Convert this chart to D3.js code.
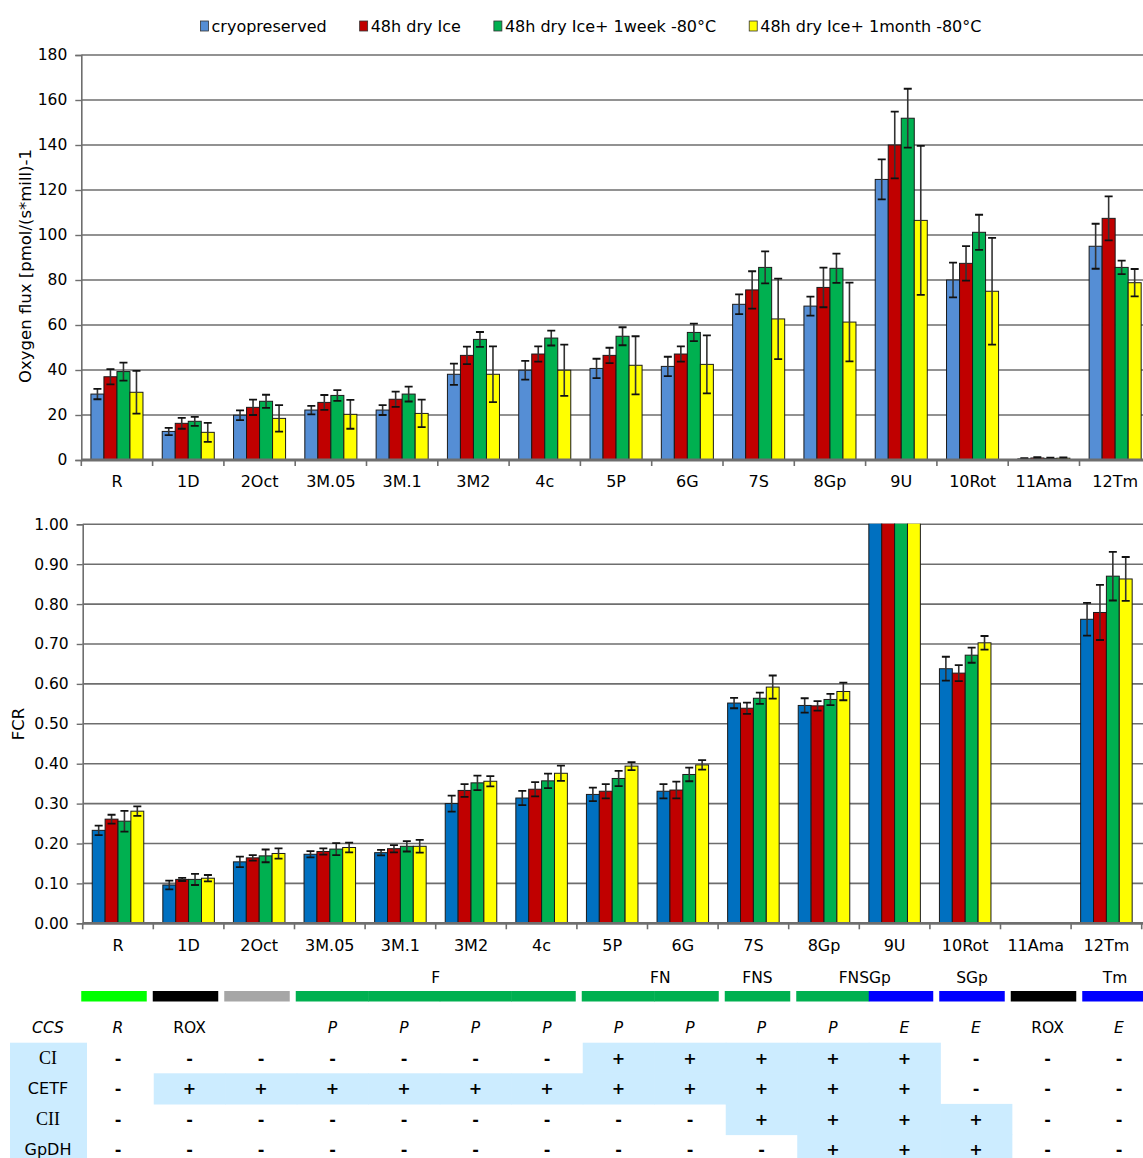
<!DOCTYPE html>
<html><head><meta charset="utf-8">
<script src="https://cdn.jsdelivr.net/npm/d3@7"></script>
<style>body{margin:0;background:#fff}svg{display:block;font-family:"DejaVu Sans",Verdana,sans-serif}</style>
</head><body><svg id="c" width="1143" height="1158"></svg>
<script>
const categories = ["R","1D","2Oct","3M.05","3M.1","3M2","4c","5P","6G","7S","8Gp","9U","10Rot","11Ama","12Tm"];
const seriesNames = ["cryopreserved","48h dry Ice","48h dry Ice+ 1week -80°C","48h dry Ice+ 1month -80°C"];
const fluxTicks = [0,20,40,60,80,100,120,140,160,180];
const fcrTicks = [0,0.1,0.2,0.3,0.4,0.5,0.6,0.7,0.8,0.9,1.0];

// Oxygen flux
const fluxCryo     = [29.3,12.7,19.9,22.2,22.2,38.1,39.9,40.7,41.6,69.2,68.4,124.7,80.0,0.5,95.0];
const fluxCryoErr  = [2.3,1.6,2.2,1.9,2.2,4.7,4.2,4.3,4.3,4.4,4.2,8.9,7.7,0.3,10.0];
const fluxDry      = [37.0,16.3,23.4,25.6,27.0,46.5,47.1,46.5,47.1,75.6,76.7,140.0,87.4,0.9,107.4];
const fluxDryErr   = [3.4,2.4,3.4,3.3,3.4,3.9,3.4,3.4,3.4,8.3,8.8,14.8,7.7,0.4,9.8];
const fluxWeek     = [39.3,17.2,26.1,28.7,29.3,53.6,54.2,55.0,56.7,85.6,85.2,151.9,101.2,0.7,85.6];
const fluxWeekErr  = [4.0,2.0,2.9,2.4,3.3,3.3,3.3,4.0,3.9,7.1,6.5,13.1,7.8,0.3,3.0];
const fluxMonth    = [30.1,12.3,18.5,20.3,20.7,38.1,39.9,42.1,42.5,62.7,61.3,106.5,75.0,0.8,78.8];
const fluxMonthErr = [9.5,4.2,5.9,6.4,6.1,12.4,11.4,12.9,12.9,17.9,17.5,33.1,23.7,0.4,6.1];

// FCR
const fcrCryo     = [0.233,0.096,0.154,0.173,0.177,0.300,0.314,0.323,0.331,0.552,0.546,1.30,0.638,null,0.762];
const fcrCryoErr  = [0.012,0.011,0.013,0.008,0.007,0.020,0.018,0.017,0.018,0.013,0.018,null,0.030,null,0.041];
const fcrDry      = [0.261,0.110,0.164,0.180,0.187,0.333,0.336,0.331,0.334,0.539,0.545,1.30,0.627,null,0.779];
const fcrDryErr   = [0.011,0.004,0.007,0.008,0.009,0.016,0.018,0.018,0.021,0.014,0.012,null,0.020,null,0.069];
const fcrWeek     = [0.256,0.110,0.169,0.186,0.193,0.352,0.357,0.363,0.373,0.564,0.561,1.30,0.672,null,0.870];
const fcrWeekErr  = [0.026,0.014,0.016,0.015,0.013,0.018,0.018,0.019,0.017,0.014,0.014,null,0.019,null,0.061];
const fcrMonth    = [0.281,0.113,0.175,0.190,0.193,0.356,0.376,0.394,0.397,0.592,0.581,1.30,0.703,null,0.863];
const fcrMonthErr = [0.012,0.008,0.013,0.012,0.016,0.013,0.019,0.010,0.012,0.029,0.022,null,0.017,null,0.055];

// Table
const ccsRow  = ["R","ROX","","P","P","P","P","P","P","P","P","E","E","ROX","E"];
const rowNames = ["CI","CETF","CII","GpDH"];
const rowCI   = ["-","-","-","-","-","-","-","+","+","+","+","+","-","-","-"];
const rowCETF = ["-","+","+","+","+","+","+","+","+","+","+","+","-","-","-"];
const rowCII  = ["-","-","-","-","-","-","-","-","-","+","+","+","+","-","-"];
const rowGpDH = ["-","-","-","-","-","-","-","-","-","-","+","+","+","-","-"];
const pathwayLabels = ["","","","F","FN","FNS","FNSGp","SGp","","Tm"];
const pathwayStart  = [0,1,2,3,7,9,10,12,13,14];
const pathwayEnd    = [0,1,2,6,8,9,11,12,13,14];
const pathwayColors = ["#00FF00","#000000","#A6A6A6","#00B050","#00B050","#00B050","#00B050","#00B050","#00B050","#00B050","#00B050","#0000FF","#0000FF","#000000","#0000FF"];

const topColors = ["#558ED5","#C00000","#00B050","#FFFF00"];
const botColors = ["#0070C0","#C00000","#00B050","#FFFF00"];

const svg = d3.select("#c");
svg.append("rect").attr("width",1143).attr("height",1158).attr("fill","#fff");

function drawChart(o){
  const g = svg.append("g");
  const x0 = d3.scaleBand().domain(categories).range([o.left, o.right]).paddingInner(0).paddingOuter(0);
  const x1 = d3.scaleBand().domain([0,1,2,3]).range([0, x0.bandwidth()]).paddingInner(0).paddingOuter(0.74);
  const y = d3.scaleLinear().domain(o.domain).range([o.bottom, o.top]);
  const clipId = "clip"+o.id;
  svg.append("clipPath").attr("id",clipId).append("rect")
    .attr("x",o.left).attr("y",o.top-0.5).attr("width",o.right-o.left).attr("height",o.bottom-o.top+1);
  g.append("g").selectAll("line").data(o.ticks.slice(1)).join("line")
    .attr("x1",o.left).attr("x2",1143).attr("y1",d=>y(d)).attr("y2",d=>y(d))
    .attr("stroke","#6e6e6e").attr("stroke-width",1.6);
  const ya = g.append("g").attr("transform",`translate(${o.left},0)`)
    .call(d3.axisLeft(y).tickValues(o.ticks).tickSize(6).tickPadding(8).tickFormat(o.fmt));
  ya.select(".domain").attr("stroke","#6e6e6e").attr("stroke-width",1.6);
  ya.selectAll(".tick line").attr("stroke","#6e6e6e").attr("stroke-width",1.4);
  ya.selectAll("text").attr("font-size",15.5).attr("fill","#000").attr("font-family","'DejaVu Sans',Verdana,sans-serif");
  const bars = g.append("g").attr("clip-path",`url(#${clipId})`);
  const data = [];
  categories.forEach((c,i)=>{
    o.series.forEach((s,k)=>{
      if(s.v[i]!=null) data.push({c, k, v:s.v[i], e:s.e[i]});
    });
  });
  bars.selectAll("rect").data(data).join("rect")
    .attr("x",d=>x0(d.c)+x1(d.k)).attr("width",x1.bandwidth())
    .attr("y",d=>y(d.v)).attr("height",d=>y(0)-y(d.v))
    .attr("fill",d=>o.colors[d.k]).attr("stroke","#1a1a1a").attr("stroke-width",1);
  const eb = bars.append("g").selectAll("g").data(data.filter(d=>d.e!=null)).join("g")
    .attr("stroke","#111").attr("stroke-width",1.8);
  const cx = d=>x0(d.c)+x1(d.k)+x1.bandwidth()/2;
  eb.append("line").attr("x1",cx).attr("x2",cx).attr("y1",d=>y(d.v+d.e)).attr("y2",d=>y(d.v-d.e)).attr("stroke","#333").attr("stroke-width",1.6);
  eb.append("line").attr("x1",d=>cx(d)-4).attr("x2",d=>cx(d)+4).attr("y1",d=>y(d.v+d.e)).attr("y2",d=>y(d.v+d.e));
  eb.append("line").attr("x1",d=>cx(d)-4).attr("x2",d=>cx(d)+4).attr("y1",d=>y(d.v-d.e)).attr("y2",d=>y(d.v-d.e));
  g.append("line").attr("x1",o.left).attr("x2",1143).attr("y1",y(0)).attr("y2",y(0))
    .attr("stroke","#6e6e6e").attr("stroke-width",2.8);
  const bounds = categories.map(c=>x0(c)).concat([o.right]);
  g.append("g").selectAll("line").data(bounds).join("line")
    .attr("x1",d=>d).attr("x2",d=>d).attr("y1",y(0)).attr("y2",y(0)+6)
    .attr("stroke","#6e6e6e").attr("stroke-width",1.6);
  g.append("g").selectAll("text").data(categories).join("text")
    .attr("x",d=>x0(d)+x0.bandwidth()/2).attr("y",o.labelY)
    .attr("text-anchor","middle").attr("dominant-baseline","central")
    .attr("font-size",16).attr("fill","#000").text(d=>d);
  g.append("text").attr("transform",`translate(${o.titleX},${o.titleY}) rotate(-90)`)
    .attr("text-anchor","middle").attr("dominant-baseline","central")
    .attr("font-size",16.5).attr("fill","#000").text(o.title);
}

drawChart({id:"a", left:81.3, right:81.3+15*71.3, top:55, bottom:460, domain:[0,180], ticks:fluxTicks,
  fmt:d3.format("d"), colors:topColors, labelY:481, title:"Oxygen flux [pmol/(s*mill)-1", titleX:25, titleY:266,
  series:[{v:fluxCryo,e:fluxCryoErr},{v:fluxDry,e:fluxDryErr},{v:fluxWeek,e:fluxWeekErr},{v:fluxMonth,e:fluxMonthErr}]});

drawChart({id:"b", left:82.7, right:1141.7, top:524.3, bottom:923.3, domain:[0,1], ticks:fcrTicks,
  fmt:d3.format(".2f"), colors:botColors, labelY:945, title:"FCR", titleX:18, titleY:724,
  series:[{v:fcrCryo,e:fcrCryoErr},{v:fcrDry,e:fcrDryErr},{v:fcrWeek,e:fcrWeekErr},{v:fcrMonth,e:fcrMonthErr}]});

// legend
const leg = svg.append("g");
let lx = 0;
seriesNames.forEach((n,i)=>{
  const it = leg.append("g").attr("transform",`translate(${lx},0)`);
  it.append("rect").attr("x",0).attr("y",21).attr("width",8).attr("height",10)
    .attr("fill",topColors[i]).attr("stroke","#333").attr("stroke-width",0.8);
  const t = it.append("text").attr("x",11).attr("y",26).attr("dominant-baseline","central")
    .attr("font-size",16).attr("fill","#000").text(n);
  lx += 11 + t.node().getComputedTextLength() + 33;
});
const legW = lx - 33;
leg.attr("transform",`translate(${591 - legW/2},0)`);

// table
const tx = d3.scaleBand().domain(categories).range([82.25, 82.25+15*71.5]);
const tcx = c => tx(c)+tx.bandwidth()/2;
const tb = svg.append("g");
pathwayLabels.forEach((lab,j)=>{
  const s = pathwayStart[j], e = pathwayEnd[j];
  for(let i=s;i<=e;i++){
    const x1 = (i===s) ? tx(categories[i])-1 : tx(categories[i]);
    const x2 = (i===e) ? tx(categories[i])+tx.bandwidth()-7 : tx(categories[i])+tx.bandwidth()+0.5;
    tb.append("rect").attr("x",x1).attr("y",991).attr("width",x2-x1).attr("height",10.5).attr("fill",pathwayColors[i]);
  }
  if(lab){
    const xa = tx(categories[s])-1, xb = tx(categories[e])+tx.bandwidth()-7;
    tb.append("text").attr("x",(xa+xb)/2 + (lab==="FN"?10:0)).attr("y",978).attr("text-anchor","middle")
      .attr("dominant-baseline","central").attr("font-size",15.5).attr("fill","#000").text(lab);
  }
});
const rows = [rowCI,rowCETF,rowCII,rowGpDH];
const rowTop = [1042.7,1073.3,1103.9,1134.5];
const rowH = 30.6;
tb.append("rect").attr("x",10).attr("y",rowTop[0]).attr("width",77).attr("height",rowH*4+2).attr("fill","#CCECFF");
rows.forEach((r,ri)=>{
  r.forEach((v,i)=>{
    if(v==="+") tb.append("rect").attr("x",tx(categories[i])).attr("y",rowTop[ri]).attr("width",tx.bandwidth()+0.6).attr("height",rowH+0.6).attr("fill","#CCECFF");
  });
});
tb.append("text").attr("x",48).attr("y",1028).attr("text-anchor","middle").attr("dominant-baseline","central")
  .attr("font-size",15.5).attr("font-style","italic").text("CCS");
categories.forEach((c,i)=>{
  const v = ccsRow[i];
  if(!v) return;
  tb.append("text").attr("x",tcx(c)).attr("y",1028).attr("text-anchor","middle").attr("dominant-baseline","central")
    .attr("font-size",15.5).attr("font-style", v==="ROX" ? "normal" : "italic").text(v);
});
rows.forEach((r,ri)=>{
  const cy = rowTop[ri]+rowH/2;
  const nm = rowNames[ri];
  const serif = (nm==="CI"||nm==="CII");
  tb.append("text").attr("x",48).attr("y",cy).attr("text-anchor","middle").attr("dominant-baseline","central")
    .attr("font-size", serif ? 18 : 16).attr("font-family", serif ? "'Liberation Serif',serif" : "'DejaVu Sans',sans-serif")
    .text(nm);
  r.forEach((v,i)=>{
    tb.append("text").attr("x",tcx(categories[i])).attr("y",cy).attr("text-anchor","middle").attr("dominant-baseline","central")
      .attr("font-size",16).attr("font-weight","bold").text(v);
  });
});
</script></body></html>
